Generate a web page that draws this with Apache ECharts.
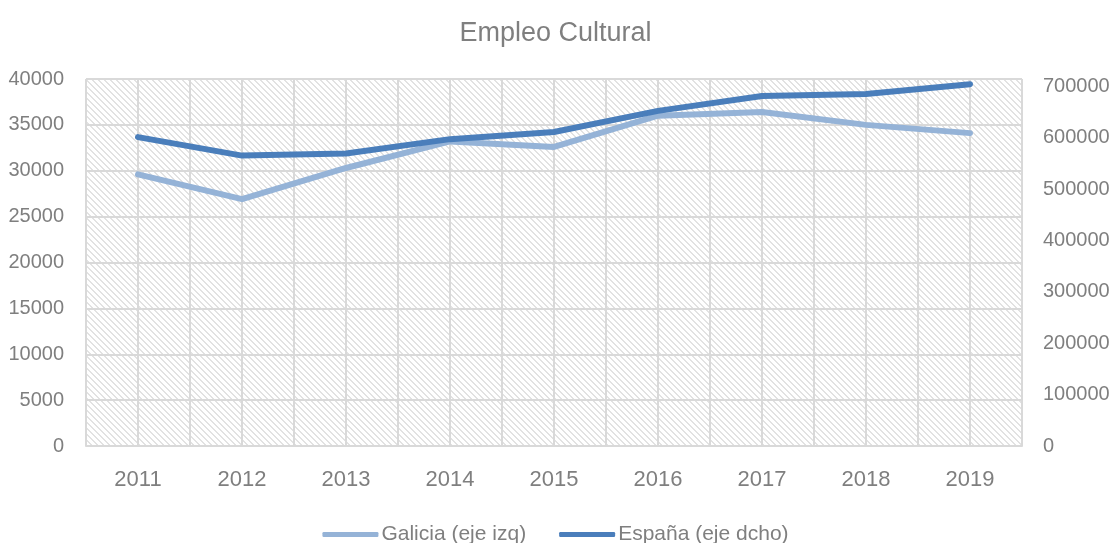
<!DOCTYPE html>
<html lang="es">
<head>
    <meta charset="UTF-8">
    <title>Empleo Cultural</title>
    <script src="https://cdn.jsdelivr.net/npm/echarts@6/dist/echarts.min.js"></script>
    <style>
        html, body { margin: 0; padding: 0; background: #fff; }
    </style>
</head>
<body>
    <div id="main" style="width: 1111px;height:543px;"></div>
    <script>
// datos
var years = ['2011', '2012', '2013', '2014', '2015', '2016', '2017', '2018', '2019'];
var galicia = [29600, 26900, 30300, 33200, 32600, 36000, 36400, 35000, 34100];
var espana = [601000, 565000, 569000, 597000, 611000, 652000, 681000, 685000, 704000];

var fontName = "'Liberation Sans', Arial, sans-serif";
var textColor = '#7f7f7f';
var gridColor = '#d9d9d9';

// trama diagonal del fondo
var tile = document.createElement('canvas');
tile.width = 6;
tile.height = 6;
var ctx = tile.getContext('2d');
ctx.fillStyle = '#ffffff';
ctx.fillRect(0, 0, 6, 6);
ctx.fillStyle = '#e2e2e2';
for (var y = 0; y < 6; y++) {
    for (var x = 0; x < 6; x++) {
        if (((x - y) % 6 + 6) % 6 < 2) ctx.fillRect(x, y, 1, 1);
    }
}

function plain(v) { return String(v); }

var myChart = echarts.init(document.getElementById('main'));

var option = {
    animation: false,
    title: {
        text: 'Empleo Cultural',
        left: 'center',
        top: 15,
        textStyle: { color: textColor, fontSize: 27, fontWeight: 'normal', fontFamily: fontName }
    },
    legend: {
        data: ['Galicia (eje izq)', 'España (eje dcho)'],
        top: 519,
        left: 'center',
        icon: 'roundRect',
        itemWidth: 56,
        itemHeight: 5,
        itemGap: 33,
        textStyle: { color: textColor, fontSize: 21, fontFamily: fontName, padding: [0, 0, 0, -2] }
    },
    grid: {
        left: 86,
        right: 89,
        top: 79,
        bottom: 97,
        show: true,
        borderWidth: 0,
        backgroundColor: { image: tile, repeat: 'repeat' },
        outerBoundsMode: 'none'
    },
    xAxis: [
        {
            type: 'category',
            data: years,
            boundaryGap: true,
            axisLine: { lineStyle: { color: gridColor, width: 2 } },
            axisTick: { show: false },
            axisLabel: { color: textColor, fontSize: 22, fontFamily: fontName, margin: 23 },
            splitLine: { show: false }
        },
        {
            // solo para las líneas verticales cada media categoría
            type: 'value',
            position: 'top',
            min: 0,
            max: 18,
            interval: 1,
            axisLine: { show: false },
            axisTick: { show: false },
            axisLabel: { show: false },
            splitLine: { show: true, lineStyle: { color: gridColor, width: 2 } }
        }
    ],
    yAxis: [
        {
            type: 'value',
            min: 0,
            max: 40000,
            interval: 5000,
            axisLine: { show: false },
            axisTick: { show: false },
            axisLabel: { color: textColor, fontSize: 20, fontFamily: fontName, margin: 22, formatter: plain },
            splitLine: { lineStyle: { color: gridColor, width: 2 } }
        },
        {
            type: 'value',
            min: 0,
            max: 714000,
            interval: 100000,
            axisLine: { show: false },
            axisTick: { show: false },
            axisLabel: { color: textColor, fontSize: 20, fontFamily: fontName, margin: 21, showMaxLabel: false, formatter: plain },
            splitLine: { show: false }
        }
    ],
    series: [
        {
            name: 'Galicia (eje izq)',
            type: 'line',
            xAxisIndex: 0,
            yAxisIndex: 0,
            symbol: 'none',
            lineStyle: { color: '#95b3d7', width: 6, cap: 'round', join: 'round' },
            itemStyle: { color: '#95b3d7' },
            data: galicia
        },
        {
            name: 'España (eje dcho)',
            type: 'line',
            xAxisIndex: 0,
            yAxisIndex: 1,
            symbol: 'none',
            lineStyle: { color: '#4a7ebb', width: 6, cap: 'round', join: 'round' },
            itemStyle: { color: '#4a7ebb' },
            data: espana
        }
    ]
};
myChart.setOption(option);
    </script>
</body>
</html>
